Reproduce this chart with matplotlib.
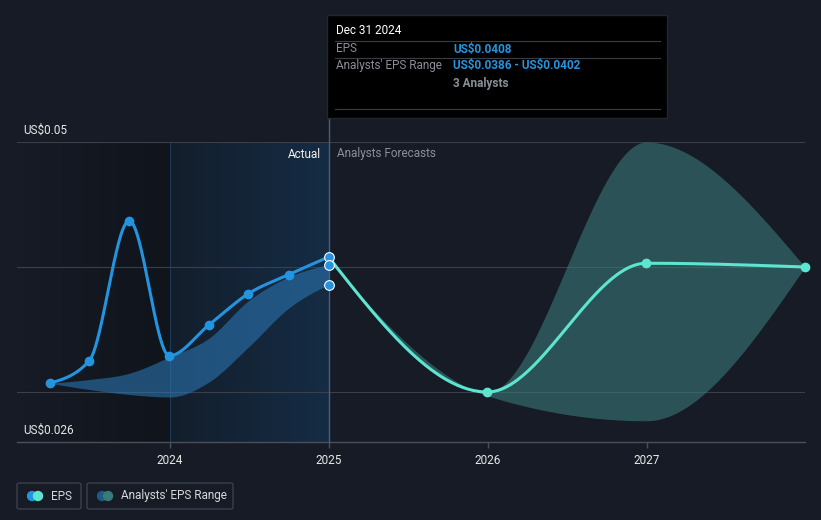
import numpy as np
import pandas as pd
import matplotlib
matplotlib.use('Agg')
import matplotlib.pyplot as plt
import matplotlib.dates as mdates
from matplotlib.patches import FancyBboxPatch, Rectangle, Circle
from matplotlib.colors import LinearSegmentedColormap

plt.rcParams['font.family'] = ['Roboto', 'DejaVu Sans']

# actual EPS (quarterly, trailing)
actual_dates = ['2023-03-31', '2023-06-30', '2023-09-30', '2023-12-31',
                '2024-03-31', '2024-06-30', '2024-09-30', '2024-12-31']
actual_eps = [0.0307, 0.0325, 0.0437, 0.0329, 0.03536, 0.03787, 0.03938, 0.0408]
past_low = [0.0307, 0.0302, 0.0298, 0.0296, 0.0308, 0.0336, 0.0367, 0.0386]
past_high = [0.0307, 0.0310, 0.0315, 0.0328, 0.0343, 0.0373, 0.0392, 0.0402]

# analyst forecasts
fc_dates = ['2024-12-31', '2025-12-31', '2026-12-31', '2027-12-31']
fc_eps = [0.0408, 0.0300, 0.0403, 0.0400]
fc_low = [0.0405, 0.0297, 0.0277, 0.0400]
fc_high = [0.0408, 0.0300, 0.0500, 0.0400]

y_ticks = [0.03, 0.04, 0.05]
x_years = [2024, 2025, 2026, 2027]

BG = '#161b26'
BLUE = '#2394df'
MINT = '#5ee5cf'


def monotone(x, y, n=60):
	# monotone cubic interpolation (like d3 curveMonotoneX)
	x = np.asarray(x, float)
	y = np.asarray(y, float)
	h = np.diff(x)
	s = np.diff(y) / h
	t = np.zeros(len(x))
	for k in range(1, len(x) - 1):
		p = (s[k - 1] * h[k] + s[k] * h[k - 1]) / (h[k - 1] + h[k])
		t[k] = (np.sign(s[k - 1]) + np.sign(s[k])) * min(abs(s[k - 1]), abs(s[k]), 0.5 * abs(p))
	t[0] = (3 * s[0] - t[1]) / 2 if len(x) > 2 else s[0]
	t[-1] = (3 * s[-1] - t[-2]) / 2 if len(x) > 2 else s[-1]
	xs, ys = [], []
	for k in range(len(x) - 1):
		u = np.linspace(0, 1, n)
		h00 = 2 * u**3 - 3 * u**2 + 1
		h10 = u**3 - 2 * u**2 + u
		h01 = -2 * u**3 + 3 * u**2
		h11 = u**3 - u**2
		xs.append(x[k] + u * h[k])
		ys.append(h00 * y[k] + h10 * h[k] * t[k] + h01 * y[k + 1] + h11 * h[k] * t[k + 1])
	return np.concatenate(xs), np.concatenate(ys)


ax_x = mdates.date2num(pd.to_datetime(actual_dates))
fc_x = mdates.date2num(pd.to_datetime(fc_dates))

fig = plt.figure(figsize=(8.21, 5.2), dpi=100)
fig.patch.set_facecolor(BG)
ax = fig.add_axes([17 / 821, 78 / 520, 788 / 821, 300 / 520])
ax.set_facecolor(BG)

x_left = mdates.date2num(pd.Timestamp('2023-01-15'))
x_right = mdates.date2num(pd.Timestamp('2027-12-31'))
x24 = mdates.date2num(pd.Timestamp('2024-01-01'))
x25 = mdates.date2num(pd.Timestamp('2024-12-31'))
ax.set_xlim(x_left, x_right)
ax.set_ylim(0.026, 0.05)

# shaded backgrounds
grad = np.linspace(0, 1, 256).reshape(1, -1)
dark = LinearSegmentedColormap.from_list('d', [BG, '#10141b'])
blue = LinearSegmentedColormap.from_list('b', ['#131e2c', '#152c44'])
ax.imshow(grad, cmap=dark, aspect='auto', extent=[x_left, x24, 0.026, 0.05], zorder=0)
ax.imshow(grad, cmap=blue, aspect='auto', extent=[x24, x25, 0.026, 0.05], zorder=0)
ax.axvline(x24, color='#1d3a56', lw=0.8, zorder=1)

for v in y_ticks:
	ax.axhline(v, color='#3a3f49', lw=0.8, zorder=1)

# bands
bx, blo = monotone(ax_x, past_low)
_, bhi = monotone(ax_x, past_high)
ax.fill_between(bx, blo, bhi, color='#2a74b0', alpha=0.6, lw=0, zorder=2)
fx, flo = monotone(fc_x, fc_low)
_, fhi = monotone(fc_x, fc_high)
ax.fill_between(fx, flo, fhi, color='#3a7a78', alpha=0.6, lw=0, zorder=2)

# lines
lx, ly = monotone(ax_x, actual_eps)
ax.plot(lx, ly, color=BLUE, lw=2.2, zorder=4, solid_capstyle='round')
gx, gy = monotone(fc_x, fc_eps)
ax.plot(gx, gy, color=MINT, lw=2.2, zorder=4, solid_capstyle='round')
ax.plot(ax_x[:-1], actual_eps[:-1], 'o', color=BLUE, ms=6, zorder=5)
ax.plot(fc_x[1:], fc_eps[1:], 'o', color=MINT, ms=6, zorder=5, clip_on=False)

# hover line and points
ax.plot([x25, x25], [0.026, 0.05 + 24 * 0.024 / 300], color='#45627d', lw=1, zorder=3, clip_on=False)
ax.plot([x25] * 3, [actual_eps[-1], past_high[-1], past_low[-1]], 'o', color=BLUE, ms=7,
	mec='white', mew=0.8, zorder=6, clip_on=False)

# axes styling
for sp in ['top', 'right', 'left']:
	ax.spines[sp].set_visible(False)
ax.spines['bottom'].set_color('#4a4f58')
ax.spines['bottom'].set_linewidth(1)
ax.set_yticks([])
ax.set_xticks(mdates.date2num(pd.to_datetime([f'{y}-01-01' for y in x_years])))
ax.set_xticklabels([str(y) for y in x_years])
ax.tick_params(axis='x', colors='#4a4f58', length=4, width=1, labelcolor='#e8e8e8', labelsize=8.5, pad=5)

# y labels
ax.annotate('US$0.05', xy=(0, 0.05), xycoords=('axes fraction', 'data'), xytext=(6, 5),
	textcoords='offset pixels', color='#e8e8e8', fontsize=8.5, va='bottom')
ax.annotate('US$0.026', xy=(0, 0.026), xycoords=('axes fraction', 'data'), xytext=(6, 5),
	textcoords='offset pixels', color='#e8e8e8', fontsize=8.5, va='bottom')

# actual / forecast
ax.annotate('Actual', xy=(x25, 0.05), xytext=(-8, -12), textcoords='offset pixels',
	color='#f0f0f0', fontsize=8.5, ha='right', va='center')
ax.annotate('Analysts Forecasts', xy=(x25, 0.05), xytext=(8, -12), textcoords='offset pixels',
	color='#8a8f98', fontsize=8.5, ha='left', va='center')

# tooltip
def fx_(px):
	return px / 821
def fy_(py):
	return 1 - py / 520

fig.patches.append(Rectangle((fx_(327), fy_(118)), fx_(340), 103 / 520, transform=fig.transFigure,
	facecolor='#000000', edgecolor='#22262e', lw=1, zorder=10))
for py in [41, 58, 109]:
	fig.lines.append(plt.Line2D([fx_(335), fx_(660)], [fy_(py), fy_(py)], transform=fig.transFigure,
		color='#3a3d44', lw=0.8, zorder=11))
fig.text(fx_(336), fy_(31), 'Dec 31 2024', color='white', fontsize=8.5, va='center', zorder=12)
fig.text(fx_(336), fy_(49), 'EPS', color='#8a8f98', fontsize=8.5, va='center', zorder=12)
fig.text(fx_(453), fy_(49), 'US$0.0408', color=BLUE, fontsize=8.5, fontweight='bold', va='center', zorder=12)
fig.text(fx_(336), fy_(66), "Analysts' EPS Range", color='#8a8f98', fontsize=8.5, va='center', zorder=12)
fig.text(fx_(453), fy_(66), 'US$0.0386 - US$0.0402', color=BLUE, fontsize=8.5, fontweight='bold',
	va='center', zorder=12, parse_math=False)
fig.text(fx_(453), fy_(83), '3 Analysts', color='#8a8f98', fontsize=8.5, fontweight='bold', va='center', zorder=12)

# legend
def legend_box(x0, x1, c1, c2, label):
	fig.patches.append(FancyBboxPatch((fx_(x0), fy_(509)), fx_(x1 - x0), 26 / 520,
		boxstyle='round,pad=0,rounding_size=0.003', transform=fig.transFigure,
		facecolor='none', edgecolor='#3a3f49', lw=1))
	ax2 = fig.add_axes([fx_(x0 + 10), fy_(502), fx_(18), 12 / 520])
	ax2.set_xlim(0, 18)
	ax2.set_ylim(0, 12)
	ax2.axis('off')
	ax2.add_patch(Circle((5, 6), 4.5, color=c1))
	ax2.add_patch(Circle((11, 6), 4.5, color=c2))
	fig.text(fx_(x0 + 34), fy_(496), label, color='#d8d8d8', fontsize=8.5, va='center')

legend_box(17, 81, BLUE, MINT, 'EPS')
legend_box(87, 233, '#1f5a85', '#3a7a78', "Analysts' EPS Range")

fig.savefig('out.png', dpi=100, facecolor=BG)
